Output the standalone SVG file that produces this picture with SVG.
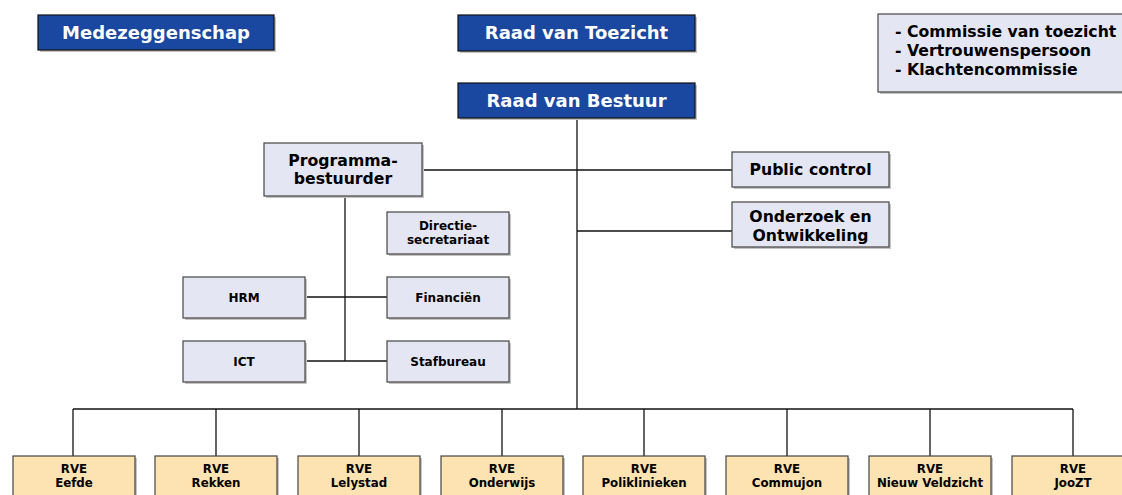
<svg xmlns="http://www.w3.org/2000/svg" width="1122" height="495" viewBox="0 0 1122 495">
<style>
text{font-family:"DejaVu Sans",Verdana,sans-serif;font-weight:bold;text-anchor:middle;fill:#000}
.blue rect.b{fill:#1a479f;stroke:#111;stroke-width:1.2}
.blue text{fill:#fff;font-size:18px}
rect.sh{fill:#c4c4c4}
.lav rect.b{fill:#e5e6f3;stroke:#444;stroke-width:1.2}
.rve rect.b{fill:#fde3b1;stroke:#444;stroke-width:1.2}
.m{font-size:15.7px}
.s{font-size:12px}
.r{font-size:11.8px}
#connectors line{stroke:#111;stroke-width:1.3}
</style>
<rect width="1122" height="495" fill="#fff"/>
<g id="connectors">
<line x1="577" y1="118" x2="577" y2="409"/>
<line x1="422" y1="170" x2="733" y2="170"/>
<line x1="577" y1="231" x2="733" y2="231"/>
<line x1="345" y1="196" x2="345" y2="361"/>
<line x1="305" y1="297" x2="387" y2="297"/>
<line x1="305" y1="361" x2="387" y2="361"/>
<line x1="73" y1="409" x2="1073" y2="409"/>
<line x1="73" y1="409" x2="73" y2="456"/>
<line x1="216" y1="409" x2="216" y2="456"/>
<line x1="359" y1="409" x2="359" y2="456"/>
<line x1="502" y1="409" x2="502" y2="456"/>
<line x1="644" y1="409" x2="644" y2="456"/>
<line x1="787" y1="409" x2="787" y2="456"/>
<line x1="930" y1="409" x2="930" y2="456"/>
<line x1="1073" y1="409" x2="1073" y2="456"/>
</g>
<g id="medezeggenschap" class="blue"><rect class="sh" x="40" y="17" width="236" height="35"/><rect class="b" x="38" y="15" width="236" height="35"/><text x="156" y="39">Medezeggenschap</text></g>
<g id="raad-van-toezicht" class="blue"><rect class="sh" x="460" y="17" width="237" height="36"/><rect class="b" x="458" y="15" width="237" height="36"/><text x="576.5" y="39">Raad van Toezicht</text></g>
<g id="raad-van-bestuur" class="blue"><rect class="sh" x="460" y="85" width="237" height="35"/><rect class="b" x="458" y="83" width="237" height="35"/><text x="576.5" y="107">Raad van Bestuur</text></g>
<g id="commissies" class="lav"><rect class="sh" x="880" y="16" width="250" height="78"/><rect class="b" x="878" y="14" width="250" height="78"/>
<text class="m" x="895" y="37" style="text-anchor:start">- Commissie van toezicht</text>
<text class="m" x="895" y="56" style="text-anchor:start">- Vertrouwenspersoon</text>
<text class="m" x="895" y="75" style="text-anchor:start">- Klachtencommissie</text></g>
<g id="programmabestuurder" class="lav"><rect class="sh" x="266" y="145" width="158" height="53"/><rect class="b" x="264" y="143" width="158" height="53"/><text class="m" x="343" y="166">Programma-</text><text class="m" x="343" y="184">bestuurder</text></g>
<g id="public-control" class="lav"><rect class="sh" x="734" y="154" width="157" height="35"/><rect class="b" x="732" y="152" width="157" height="35"/><text class="m" x="810.5" y="175">Public control</text></g>
<g id="onderzoek" class="lav"><rect class="sh" x="734" y="204" width="157" height="45"/><rect class="b" x="732" y="202" width="157" height="45"/><text class="m" x="810.5" y="222">Onderzoek en</text><text class="m" x="810.5" y="241">Ontwikkeling</text></g>
<g id="directiesecretariaat" class="lav"><rect class="sh" x="389" y="214" width="122" height="42"/><rect class="b" x="387" y="212" width="122" height="42"/><text class="s" x="448" y="230">Directie-</text><text class="s" x="448" y="244">secretariaat</text></g>
<g id="hrm" class="lav"><rect class="sh" x="185" y="279" width="122" height="41"/><rect class="b" x="183" y="277" width="122" height="41"/><text class="s" x="244" y="302">HRM</text></g>
<g id="financien" class="lav"><rect class="sh" x="389" y="279" width="122" height="41"/><rect class="b" x="387" y="277" width="122" height="41"/><text class="s" x="448" y="302">Financiën</text></g>
<g id="ict" class="lav"><rect class="sh" x="185" y="343" width="122" height="41"/><rect class="b" x="183" y="341" width="122" height="41"/><text class="s" x="244" y="366">ICT</text></g>
<g id="stafbureau" class="lav"><rect class="sh" x="389" y="343" width="122" height="41"/><rect class="b" x="387" y="341" width="122" height="41"/><text class="s" x="448" y="366">Stafbureau</text></g>
<g id="rve-eefde" class="rve"><rect class="sh" x="15" y="458" width="122" height="50"/><rect class="b" x="13" y="456" width="122" height="50"/><text class="r" x="74" y="473">RVE</text><text class="r" x="74" y="487">Eefde</text></g>
<g id="rve-rekken" class="rve"><rect class="sh" x="157" y="458" width="122" height="50"/><rect class="b" x="155" y="456" width="122" height="50"/><text class="r" x="216" y="473">RVE</text><text class="r" x="216" y="487">Rekken</text></g>
<g id="rve-lelystad" class="rve"><rect class="sh" x="300" y="458" width="122" height="50"/><rect class="b" x="298" y="456" width="122" height="50"/><text class="r" x="359" y="473">RVE</text><text class="r" x="359" y="487">Lelystad</text></g>
<g id="rve-onderwijs" class="rve"><rect class="sh" x="443" y="458" width="122" height="50"/><rect class="b" x="441" y="456" width="122" height="50"/><text class="r" x="502" y="473">RVE</text><text class="r" x="502" y="487">Onderwijs</text></g>
<g id="rve-poliklinieken" class="rve"><rect class="sh" x="585" y="458" width="122" height="50"/><rect class="b" x="583" y="456" width="122" height="50"/><text class="r" x="644" y="473">RVE</text><text class="r" x="644" y="487">Poliklinieken</text></g>
<g id="rve-commujon" class="rve"><rect class="sh" x="728" y="458" width="122" height="50"/><rect class="b" x="726" y="456" width="122" height="50"/><text class="r" x="787" y="473">RVE</text><text class="r" x="787" y="487">Commujon</text></g>
<g id="rve-nieuw-veldzicht" class="rve"><rect class="sh" x="871" y="458" width="122" height="50"/><rect class="b" x="869" y="456" width="122" height="50"/><text class="r" x="930" y="473">RVE</text><text class="r" x="930" y="487">Nieuw Veldzicht</text></g>
<g id="rve-joozt" class="rve"><rect class="sh" x="1014" y="458" width="122" height="50"/><rect class="b" x="1012" y="456" width="122" height="50"/><text class="r" x="1073" y="473">RVE</text><text class="r" x="1073" y="487">JooZT</text></g>
</svg>
